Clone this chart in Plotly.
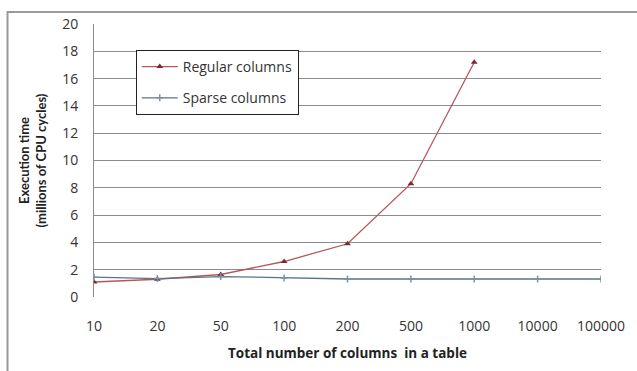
import plotly.graph_objects as go

# Category labels for the x axis (number of columns in the table)
column_counts = ["10", "20", "50", "100", "200", "500", "1000", "10000", "100000"]

# Execution time in millions of CPU cycles
regular_columns = [1.1, 1.3, 1.65, 2.6, 3.9, 8.3, 17.2]
sparse_columns = [1.45, 1.35, 1.5, 1.4, 1.32, 1.32, 1.32, 1.32, 1.32]

y_ticks = [0, 2, 4, 6, 8, 10, 12, 14, 16, 18, 20]

TEXT_FONT = "'Open Sans', Lato, sans-serif"
TITLE_FONT = "Lato, 'Open Sans', sans-serif"

fig = go.Figure()

fig.add_trace(go.Scatter(
    x=column_counts[:len(regular_columns)],
    y=regular_columns,
    name="Regular columns",
    mode="lines+markers",
    line=dict(color="#b5575a", width=1.3),
    marker=dict(symbol="triangle-up", size=6, color="#7e2a30"),
    legendgroup="regular",
))

fig.add_trace(go.Scatter(
    x=column_counts,
    y=sparse_columns,
    name="Sparse columns",
    mode="lines+markers",
    line=dict(color="#5a7488", width=1.3),
    marker=dict(symbol="cross-thin", size=5, color="#7a93a6",
                line=dict(color="#7a93a6", width=1.5)),
    legendgroup="sparse",
))

# Outer chart frame (runs past the right and bottom edges of the view)
fig.add_shape(
    type="rect", xref="paper", yref="paper",
    x0=(7 - 94) / 510, x1=1.2, y0=-0.4, y1=(297 - 12) / 273,
    line=dict(color="#9a9a9a", width=2), fillcolor="rgba(0,0,0,0)",
    layer="below",
)

fig.update_layout(
    width=637, height=371,
    margin=dict(l=94, r=33, t=24, b=74),
    paper_bgcolor="white",
    plot_bgcolor="white",
    font=dict(family=TEXT_FONT, size=14, color="#333333"),
    showlegend=True,
    legend=dict(
        x=(136 - 94) / 510, y=(297 - 50) / 273,
        xanchor="left", yanchor="top",
        bgcolor="white", bordercolor="#222222", borderwidth=1,
        font=dict(family=TEXT_FONT, size=14, color="#333333"),
        traceorder="grouped", tracegroupgap=10,
        itemwidth=36,
    ),
    xaxis=dict(
        type="category",
        categoryorder="array", categoryarray=column_counts,
        range=[0, len(column_counts) - 1],
        showgrid=False, zeroline=False,
        showline=False,
        ticks="", ticklabelstandoff=19,
        tickfont=dict(family=TEXT_FONT, size=14, color="#333333"),
        title=dict(text="<b>Total number of columns  in a table</b>",
                   font=dict(family=TEXT_FONT, size=13.5, color="#222222"),
                   standoff=14),
    ),
    yaxis=dict(
        range=[0, 20],
        tickvals=y_ticks,
        showgrid=True, gridcolor="#8c8c8c", gridwidth=1,
        zeroline=False,
        showline=True, linecolor="#8c8c8c", linewidth=1,
        ticks="", ticklabelstandoff=12,
        tickfont=dict(family=TEXT_FONT, size=14, color="#333333"),
        title=dict(text="<b>Execution time<br>(millions of CPU cycles)</b>",
                   font=dict(family=TITLE_FONT, size=13, color="#222222"),
                   standoff=12),
    ),
)

fig.write_html("out.html")
